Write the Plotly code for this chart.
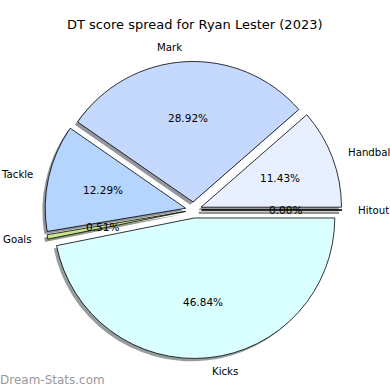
import math
import plotly.graph_objects as go

# ---- data ----
categories = ["Hitout", "Handball", "Mark", "Tackle", "Goals", "Kicks"]
percents = [0.00, 11.43, 28.92, 12.29, 0.51, 46.84]
colors = ["#d0e0ff", "#e8f0ff", "#c5d9ff", "#b5d5ff", "#c6e68c", "#d9ffff"]
title_text = "DT score spread for Ryan Lester (2023)"
watermark = "Dream-Stats.com"

# ---- layout constants (pixels) ----
W = H = 390
CX, CY = 193.5, 210        # pie centre (screen px)
R = 140.5                  # radius px
PULL = 0.057               # explode fraction
E = PULL * R
SH = 2.8                   # shadow offset px
FONT = "DejaVu Sans"

def hex_to_rgb(h):
    h = h.lstrip("#")
    return tuple(int(h[i:i + 2], 16) for i in (0, 2, 4))

shadow_cols = []
for c in colors:
    r, g, b = hex_to_rgb(c)
    shadow_cols.append(f"rgba({int(r*0.3)},{int(g*0.3)},{int(b*0.3)},0.55)")

half = R * (1 + PULL)

def dom(cx, cy):
    return dict(x=[(cx - half) / W, (cx + half) / W],
                y=[(H - cy - half) / H, (H - cy + half) / H])

common = dict(labels=categories, values=percents, sort=False,
              direction="counterclockwise", rotation=90,
              pull=[PULL] * len(categories), textinfo="none",
              hoverinfo="label+percent", showlegend=False)

fig = go.Figure()
fig.add_trace(go.Pie(**common, domain=dom(CX - SH, CY + SH),
                     marker=dict(colors=shadow_cols, line=dict(width=0))))
fig.add_trace(go.Pie(**common, domain=dom(CX, CY),
                     marker=dict(colors=colors, line=dict(color="black", width=0.8))))

total = sum(percents)
annotations = []
shapes = []
cum = 0.0
for cat, p in zip(categories, percents):
    th1 = 360 * cum / total
    th2 = 360 * (cum + p) / total
    cum += p
    tm = math.radians((th1 + th2) / 2)
    ox = CX + E * math.cos(tm)
    oy = CY - E * math.sin(tm)
    lx = ox + 1.1 * R * math.cos(tm)
    ly = oy - 1.1 * R * math.sin(tm)
    px = ox + 0.6 * R * math.cos(tm)
    py = oy - 0.6 * R * math.sin(tm)
    annotations.append(dict(x=lx / W, y=1 - ly / H, xref="paper", yref="paper",
                            text=cat, showarrow=False,
                            xanchor="left" if math.cos(tm) > 0 else "right",
                            yanchor="middle",
                            font=dict(family=FONT, size=10.2, color="black")))
    annotations.append(dict(x=px / W, y=1 - py / H, xref="paper", yref="paper",
                            text=f"{p:.2f}%", showarrow=False,
                            xanchor="center", yanchor="middle",
                            font=dict(family=FONT, size=10.5, color="black")))
    if p == 0:
        # zero-width wedge drawn as a line (with shadow)
        ex = ox + R * math.cos(tm)
        ey = oy - R * math.sin(tm)
        shapes.append(dict(type="line", xref="paper", yref="paper",
                           x0=(ox - SH) / W, y0=1 - (oy + SH) / H,
                           x1=(ex - SH) / W, y1=1 - (ey + SH) / H,
                           line=dict(color="rgba(60,60,60,0.55)", width=2.5)))
        shapes.append(dict(type="line", xref="paper", yref="paper",
                           x0=ox / W, y0=1 - oy / H, x1=ex / W, y1=1 - ey / H,
                           line=dict(color="black", width=1)))

annotations.append(dict(x=0.5, y=1 - 25 / H, xref="paper", yref="paper",
                        text=title_text, showarrow=False,
                        xanchor="center", yanchor="middle",
                        font=dict(family=FONT, size=13, color="black")))
annotations.append(dict(x=-2 / W, y=1 - 380 / H, xref="paper", yref="paper",
                        text=watermark, showarrow=False,
                        xanchor="left", yanchor="middle",
                        font=dict(family=FONT, size=12, color="#9a9a9a")))

fig.update_layout(width=W, height=H, margin=dict(l=0, r=0, t=0, b=0),
                  paper_bgcolor="white", plot_bgcolor="white",
                  annotations=annotations, shapes=shapes)

fig.write_html("out.html", config={"displayModeBar": False},
               post_script="document.body.style.margin='0';document.body.style.padding='0';")
